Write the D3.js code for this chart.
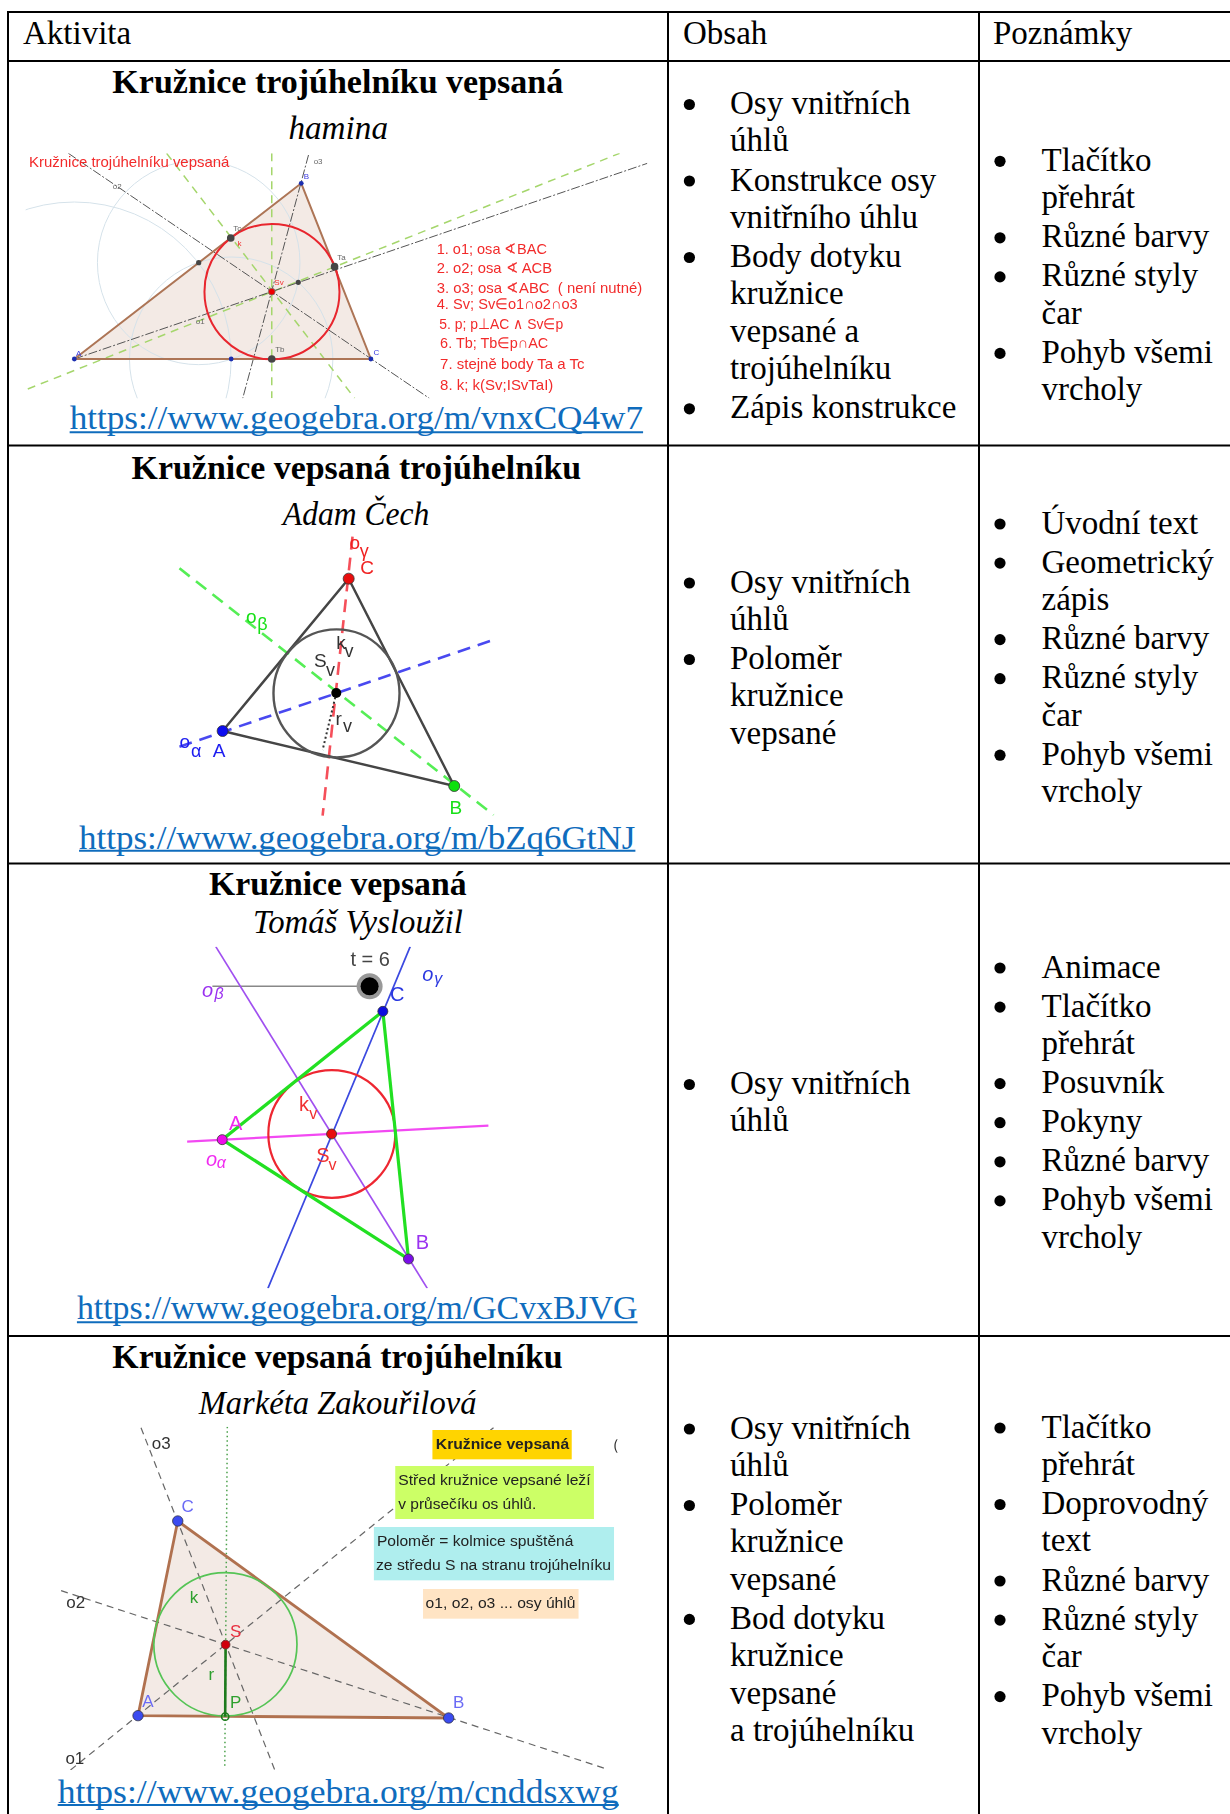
<!DOCTYPE html>
<html>
<head>
<meta charset="utf-8">
<script src="https://cdn.jsdelivr.net/npm/d3@7"></script>
<style>
  html, body { margin: 0; padding: 0; background: #fff; }
  svg { display: block; }
  text { white-space: pre; }
</style>
</head>
<body>
<div id="chart"></div>
<script>
// table content
const headers = ['Aktivita', 'Obsah', 'Poznámky'];
const titles = ['Kružnice trojúhelníku vepsaná', 'Kružnice vepsaná trojúhelníku', 'Kružnice vepsaná', 'Kružnice vepsaná trojúhelníku'];
const authors = ['hamina', 'Adam Čech', 'Tomáš Vysloužil', 'Markéta Zakouřilová'];
const links = ['https://www.geogebra.org/m/vnxCQ4w7', 'https://www.geogebra.org/m/bZq6GtNJ', 'https://www.geogebra.org/m/GCvxBJVG', 'https://www.geogebra.org/m/cnddsxwg'];
// one entry per line, a leading '*' marks a bullet
const obsah = [
    ['*Osy vnitřních', 'úhlů', '*Konstrukce osy', 'vnitřního úhlu', '*Body dotyku', 'kružnice', 'vepsané a', 'trojúhelníku', '*Zápis konstrukce'],
    ['*Osy vnitřních', 'úhlů', '*Poloměr', 'kružnice', 'vepsané'],
    ['*Osy vnitřních', 'úhlů'],
    ['*Osy vnitřních', 'úhlů', '*Poloměr', 'kružnice', 'vepsané', '*Bod dotyku', 'kružnice', 'vepsané', 'a trojúhelníku']
];
const poznamky = [
    ['*Tlačítko', 'přehrát', '*Různé barvy', '*Různé styly', 'čar', '*Pohyb všemi', 'vrcholy'],
    ['*Úvodní text', '*Geometrický', 'zápis', '*Různé barvy', '*Různé styly', 'čar', '*Pohyb všemi', 'vrcholy'],
    ['*Animace', '*Tlačítko', 'přehrát', '*Posuvník', '*Pokyny', '*Různé barvy', '*Pohyb všemi', 'vrcholy'],
    ['*Tlačítko', 'přehrát', '*Doprovodný', 'text', '*Různé barvy', '*Různé styly', 'čar', '*Pohyb všemi', 'vrcholy']
];

const tri1 = [[174, 1077], [705, 550], [868, 1077]];
const incircle1 = [636.5, 875, 158, 203];
const guideCircles1 = [[174, 1077, 367, 471], [465, 788, 237, 306], [541, 1077, 238, 306]];
const bisectors1 = [[[174, 1077], [1515, 490]], [[160, 460], [1005, 1195]], [[722, 465], [568, 1195]]];
const perps1 = [[[636, 460], [636, 1195]], [[65, 1167], [1450, 460]], [[390, 460], [830, 1195]]];
const bigPoints1 = [[540, 714], [783, 800], [636, 1077]];
const smallPoints1 = [[465, 788], [698, 847]];
const bluePoints1 = [[174, 1077], [705, 550], [868, 1077], [541, 1077]];
const center1 = [636, 875];
const steps1 = [
    ['1. o1; osa ∢BAC', 1022, 1280, 763], ['2. o2; osa ∢ ACB', 1022, 1292, 820],
    ['3. o3; osa ∢ABC  ( není nutné)', 1022, 1503, 878], ['4. Sv; Sv∈o1∩o2∩o3', 1022, 1352, 928],
    ['5. p; p⊥AC ∧ Sv∈p', 1028, 1318, 987], ['6. Tb; Tb∈p∩AC', 1030, 1283, 1043],
    ['7. stejně body Ta a Tc', 1030, 1368, 1106], ['8. k; k(Sv;ISvTaI)', 1030, 1295, 1170]
];
const caption1 = ['Kružnice trojúhelníku vepsaná', 68, 537, 502];
const grayLabels1 = [['o3', 734, 491], ['o2', 264, 566], ['Tc', 546, 694], ['Ta', 789, 781], ['o1', 458, 971], ['Tb', 644, 1057]];
const blueLabels1 = [['B', 711, 537], ['A', 178, 1067], ['C', 874, 1065]];
const redLabels1 = [['k', 556, 738], ['Sv', 642, 855]];

const tri2 = [[521, 858], [1063, 1023], [816, 401]];
const incircle2 = [787.5, 745, 147.5, 192];
const bisectorA2 = [[420, 905], [1158, 583]];
const bisectorB2 = [[420, 370], [1155, 1110]];
const bisectorC2 = [[825, 275], [755, 1112]];
const radius2 = [[787, 744], [755, 915]];
const labels2 = [
    ['C', 843, 388, 'c'], ['o', 818, 312, 'c'], ['o', 576, 533, 'b'], ['k', 787, 612, 'd'], ['S', 735, 667, 'd'],
    ['r', 785, 840, 'd'], ['o', 420, 910, 'a'], ['A', 498, 937, 'a'], ['B', 1052, 1108, 'b']
];
const subLabels2 = [['γ', 842, 335, 'c'], ['β', 602, 556, 'b'], ['v', 806, 637, 'd'], ['v', 763, 693, 'd'], ['v', 803, 860, 'd'], ['α', 447, 937, 'a']];

const tri3 = [[520, 824], [956, 1182], [896, 439]];
const incircle3 = [776.5, 807, 148.5, 191.5];
const lineA3 = [[438, 830], [1143, 782]];
const lineB3 = [[505, 245], [1000, 1270]];
const lineC3 = [[960, 245], [627, 1270]];
const slider3 = [[497, 364], [865, 364]];
const labels3 = [
    ['o', 473, 395, 'b', true], ['o', 988, 347, 'c', true], ['C', 913, 408, 'c'], ['A', 536, 795, 'a'], ['o', 482, 903, 'a', true],
    ['k', 700, 737, 'r'], ['S', 740, 890, 'r'], ['B', 973, 1152, 'b'], ['t = 6', 820, 302, 'g']
];
const subLabels3 = [['β', 502, 403, 'b', true], ['γ', 1016, 357, 'c', true], ['α', 507, 908, 'a', true], ['v', 724, 762, 'r'], ['v', 769, 915, 'r']];

const tri4 = [[323, 1142], [1050, 1149], [416, 558]];
const incircle4 = [527.5, 928, 167.5, 215];
const bisectors4 = [[[165, 1305], [1155, 278]], [[143, 767], [1415, 1300]], [[330, 278], [643, 1305]]];
const perp4 = [[532, 275], [526, 1300]];
const radius4 = [[528, 929], [527, 1145]];
const labels4 = [
    ['o3', 355, 342, 'g'], ['o2', 155, 818, 'g'], ['o1', 153, 1288, 'g'], ['C', 425, 530, 'b'], ['A', 333, 1115, 'b'],
    ['B', 1060, 1118, 'b'], ['S', 538, 907, 'r'], ['k', 444, 805, 'k'], ['r', 488, 1035, 'k'], ['P', 538, 1120, 'k']
];
const boxes4 = [
    [1012, 285, 1338, 373, '#ffd400'], [925, 393, 1390, 552, '#ccff66'],
    [875, 576, 1437, 736, '#afeeee'], [990, 762, 1354, 851, '#ffe4c4']
];
const boxTexts4 = [
    ['Kružnice vepsaná', 1020, 1332, 342, true], ['Střed kružnice vepsané leží', 932, 1382, 450], ['v průsečíku os úhlů.', 932, 1255, 522],
    ['Poloměr = kolmice spuštěná', 882, 1342, 633], ['ze středu S na stranu trojúhelníku', 880, 1430, 705], ['o1, o2, o3 ... osy úhlů', 996, 1347, 820]
];

// layout of the page
const width = 1230, height = 1814;
const rowLines = [12, 61, 445.5, 863.5, 1336];
const colLines = [8, 668, 979];
const rowTops = [0, 445, 865, 1335];           // top of the crop each row was read from
const headerX = [23, 683, 993];
const titleSpans = [[263, 1318, 278], [308, 1360, 101], [489, 1092, 91], [263, 1317, 98]];
const authorSpans = [[675, 908, 418], [662, 1005, 241], [592, 1083, 204], [465, 1115, 238]];
const linkSpans = [[163, 1505, 1288, 1297], [185, 1487, 1211, 1217], [180, 1492, 1363, 1372], [135, 1448, 1403, 1410]];
const clipBoxes = [[60, 460, 1515, 1195], [415, 270, 1160, 1115], [435, 245, 1145, 1270], [140, 275, 1445, 1305]];
const obsahBase = [114, 592.5, 1094, 1438.5];
const poznamkyBase = [170.8, 533.5, 977.5, 1437.5];
const wrapStep = 37.4, bulletStep = 39.1;

const serif = '"Liberation Serif", serif';
const sans = '"Liberation Sans", Arial, sans-serif';
const linkColor = '#0f6cbd';

const svg = d3.select('#chart').append('svg').attr('width', width).attr('height', height);
svg.append('rect').attr('width', width).attr('height', height).attr('fill', '#fff');

// the pasted screenshots in the reference are soft
const soft = svg.append('filter').attr('id', 'soft').attr('x', '-5%').attr('y', '-5%').attr('width', '110%').attr('height', '110%');
soft.append('feGaussianBlur').attr('stdDeviation', 0.45);

// crops were 670px wide shown 1568 wide, and 3x in height
const x = d3.scaleLinear().domain([0, 1568]).range([0, 670]);
const yFor = i => d3.scaleLinear().domain([0, 300]).range([rowTops[i], rowTops[i] + 100]);
const lineGen = (y) => d3.line().x(d => x(d[0])).y(d => y(d[1]));

function fitted(g, y, t, x0, x1, base) {
    return g.append('text').attr('x', x(x0)).attr('y', y(base))
        .attr('textLength', x(x1) - x(x0)).attr('lengthAdjust', 'spacingAndGlyphs').text(t);
}

function ellipse(g, y, c) {
    return g.append('ellipse').attr('cx', x(c[0])).attr('cy', y(c[1]))
        .attr('rx', x(c[2])).attr('ry', y(c[3]) - y(0)).attr('fill', 'none');
}

function segments(g, y, list, stroke, w, dash) {
    g.selectAll(null).data(list).enter().append('path')
        .attr('d', lineGen(y)).attr('fill', 'none')
        .attr('stroke', stroke).attr('stroke-width', w).attr('stroke-dasharray', dash || null);
}

function dots(g, y, list, r, fill, stroke) {
    g.selectAll(null).data(list).enter().append('circle')
        .attr('cx', d => x(d[0])).attr('cy', d => y(d[1])).attr('r', r)
        .attr('fill', fill).attr('stroke', stroke || 'none').attr('stroke-width', 0.8);
}

function labels(g, y, list, size, colors) {
    g.selectAll(null).data(list).enter().append('text')
        .attr('x', d => x(d[1])).attr('y', d => y(d[2]))
        .attr('font-family', sans).attr('font-size', size)
        .attr('font-style', d => d[4] ? 'italic' : null)
        .attr('fill', d => colors[d[3]]).text(d => d[0]);
}

function diagramGroup(i, y) {
    const b = clipBoxes[i];
    svg.append('clipPath').attr('id', 'clip' + i).append('rect')
        .attr('x', x(b[0])).attr('y', y(b[1])).attr('width', x(b[2]) - x(b[0])).attr('height', y(b[3]) - y(b[1]));
    return svg.append('g').attr('clip-path', `url(#clip${i})`).append('g').attr('filter', 'url(#soft)');
}

// diagrams first, table text on top
function drawDiagram1() {
    const y = yFor(0), g = diagramGroup(0, y);
    g.append('path').attr('d', lineGen(y)(tri1) + 'Z').attr('fill', '#f3eae5');
    guideCircles1.forEach(c => ellipse(g, y, c).attr('stroke', '#d5e2ea').attr('stroke-width', 1));
    segments(g, y, perps1, '#a5d66c', 1.5, '8 6');
    segments(g, y, bisectors1, '#555', 1, '9 2 2 2');
    g.append('path').attr('d', lineGen(y)(tri1) + 'Z').attr('fill', 'none').attr('stroke', '#ad7556').attr('stroke-width', 2);
    ellipse(g, y, incircle1).attr('stroke', '#e8252d').attr('stroke-width', 2);
    dots(g, y, bigPoints1, 3.8, '#444');
    dots(g, y, smallPoints1, 2.6, '#444');
    dots(g, y, bluePoints1, 2.4, '#1a2fb0');
    dots(g, y, [center1], 3.4, '#f00000', '#777');
    labels(g, y, grayLabels1.map(d => [...d, 'g']), 8, {g: '#666'});
    labels(g, y, blueLabels1.map(d => [...d, 'b']), 8, {b: '#3a3ae0'});
    labels(g, y, redLabels1.map(d => [...d, 'r']), 8, {r: '#f03030'});
    const red = g.append('g').attr('font-family', sans).attr('font-size', 15).attr('fill', '#f22a2a');
    steps1.forEach(s => fitted(red, y, ...s));
    fitted(red, y, ...caption1);
}

function drawDiagram2() {
    const y = yFor(1), g = diagramGroup(1, y);
    const col = {a: '#1c1cf0', b: '#16e016', c: '#f02020', d: '#333'};
    segments(g, y, [bisectorB2], '#55ee55', 2.6, '13 8');
    segments(g, y, [bisectorA2], '#4a4af0', 2.6, '13 8');
    segments(g, y, [bisectorC2], '#f5505a', 2.6, '13 8');
    segments(g, y, [radius2], '#333', 2, '2 2.5');
    g.append('path').attr('d', lineGen(y)(tri2) + 'Z').attr('fill', 'none').attr('stroke', '#444').attr('stroke-width', 2.4);
    ellipse(g, y, incircle2).attr('stroke', '#555').attr('stroke-width', 2.4);
    dots(g, y, [tri2[0]], 5.5, '#0a0af0', '#333');
    dots(g, y, [tri2[1]], 5.5, '#10e010', '#333');
    dots(g, y, [tri2[2]], 5.5, '#e81010', '#333');
    dots(g, y, [[787, 744]], 5, '#000');
    labels(g, y, labels2, 19, col);
    labels(g, y, subLabels2, 18, col);
}

function drawDiagram3() {
    const y = yFor(2), g = diagramGroup(2, y);
    const col = {a: '#f02cf0', b: '#9a30f0', c: '#2a38e0', r: '#f03030', g: '#444'};
    segments(g, y, [slider3], '#888', 1.5);
    segments(g, y, [lineB3], '#a050f0', 1.7);
    segments(g, y, [lineC3], '#3a48e0', 1.7);
    segments(g, y, [lineA3], '#f24af2', 2.2);
    ellipse(g, y, incircle3).attr('stroke', '#ee2830').attr('stroke-width', 2.2);
    g.append('path').attr('d', lineGen(y)(tri3) + 'Z').attr('fill', 'none').attr('stroke', '#22e022').attr('stroke-width', 3.2);
    dots(g, y, [slider3[1]], 13, '#999');
    dots(g, y, [slider3[1]], 9, '#000');
    dots(g, y, [tri3[0]], 5, '#ee10e8', '#333');
    dots(g, y, [tri3[1]], 5, '#7a10e8', '#333');
    dots(g, y, [tri3[2]], 5, '#1010e0', '#333');
    dots(g, y, [[776, 807]], 5, '#e81010', '#333');
    labels(g, y, labels3, 20, col);
    labels(g, y, subLabels3, 16, col);
}

function drawDiagram4() {
    const y = yFor(3), g = diagramGroup(3, y);
    const col = {g: '#333', b: '#6a6af5', r: '#e83040', k: '#2ea02e'};
    g.append('path').attr('d', lineGen(y)(tri4) + 'Z').attr('fill', '#f3eae5');
    segments(g, y, bisectors4, '#666', 1.2, '7 5');
    segments(g, y, [perp4], '#4aa04a', 1.5, '1.5 3');
    g.append('path').attr('d', lineGen(y)(tri4) + 'Z').attr('fill', 'none').attr('stroke', '#b0714f').attr('stroke-width', 2.8);
    ellipse(g, y, incircle4).attr('stroke', '#55c455').attr('stroke-width', 1.7);
    segments(g, y, [radius4], '#1c7a1c', 2.6);
    dots(g, y, tri4, 5.2, '#3a4cf0', '#334');
    dots(g, y, [[528, 929]], 4.4, '#d00010', '#633');
    g.append('circle').attr('cx', x(527)).attr('cy', y(1145)).attr('r', 3.6).attr('fill', 'none').attr('stroke', '#1c7a1c').attr('stroke-width', 1.6);
    labels(g, y, labels4, 17, col);
    g.selectAll(null).data(boxes4).enter().append('rect')
        .attr('x', d => x(d[0])).attr('y', d => y(d[1]))
        .attr('width', d => x(d[2]) - x(d[0])).attr('height', d => y(d[3]) - y(d[1]))
        .attr('fill', d => d[4]);
    const t = g.append('g').attr('font-family', sans).attr('font-size', 15.5).attr('fill', '#222');
    boxTexts4.forEach(s => fitted(t, y, s[0], s[1], s[2], s[3]).attr('font-weight', s[4] ? 'bold' : null));
    labels(g, y, [['(', 1436, 345, 'g']], 14, col);
}

drawDiagram1();
drawDiagram2();
drawDiagram3();
drawDiagram4();

// grid of the table
svg.selectAll('.hline').data(rowLines).enter().append('line')
    .attr('x1', colLines[0] - 1).attr('x2', width).attr('y1', d => d).attr('y2', d => d)
    .attr('stroke', '#000').attr('stroke-width', 2);
svg.selectAll('.vline').data(colLines).enter().append('line')
    .attr('x1', d => d).attr('x2', d => d).attr('y1', rowLines[0] - 1).attr('y2', height)
    .attr('stroke', '#000').attr('stroke-width', 2);

const text = svg.append('g').attr('font-family', serif).attr('font-size', 33).attr('fill', '#000');

// header row
headers.forEach((h, i) => {
    text.append('text').attr('x', headerX[i]).attr('y', 44).text(h);
});

// first column: title, author, link
titles.forEach((t, i) => {
    const y = yFor(i);
    const s = titleSpans[i], a = authorSpans[i], l = linkSpans[i];
    fitted(text, y, t, s[0], s[1], s[2]).attr('font-weight', 'bold');
    fitted(text, y, authors[i], a[0], a[1], a[2]).attr('font-style', 'italic');
    fitted(text, y, links[i], l[0], l[1], l[2]).attr('fill', linkColor);
    text.append('line').attr('x1', x(l[0])).attr('x2', x(l[1])).attr('y1', y(l[3])).attr('y2', y(l[3]))
        .attr('stroke', linkColor).attr('stroke-width', 2);
});

// bullet lists of the two right columns
function bulletList(lines, base, bulletX, textX) {
    let yy = base;
    lines.forEach((line, k) => {
        const bullet = line[0] === '*';
        if (k > 0) yy += bullet ? bulletStep : wrapStep;
        if (bullet) text.append('circle').attr('cx', bulletX).attr('cy', yy - 9.5).attr('r', 5.6).attr('fill', '#000');
        text.append('text').attr('x', textX).attr('y', yy).text(bullet ? line.slice(1) : line);
    });
}
obsah.forEach((lines, i) => bulletList(lines, obsahBase[i], 689.4, 730));
poznamky.forEach((lines, i) => bulletList(lines, poznamkyBase[i], 1000, 1041.5));
</script>
</body>
</html>
